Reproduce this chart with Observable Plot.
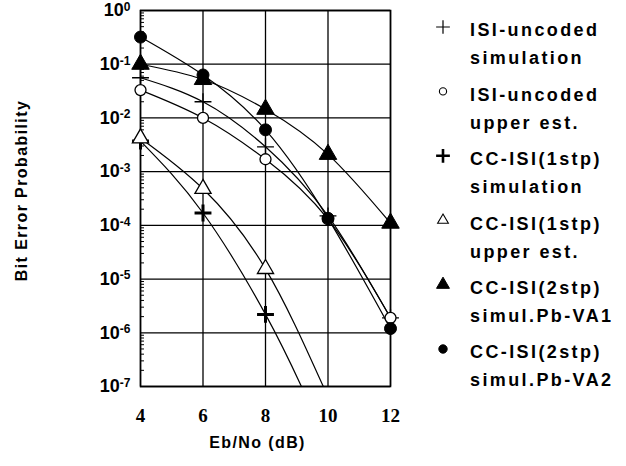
<!DOCTYPE html>
<html><head><meta charset="utf-8">
<script src="https://cdn.jsdelivr.net/npm/d3@7"></script>
<script src="https://cdn.jsdelivr.net/npm/@observablehq/plot@0.6"></script>
<style>
body{margin:0;background:#fff;}
#wrap{position:relative;width:626px;height:466px;}
#wrap svg.legend{position:absolute;left:0;top:0;pointer-events:none;}
</style></head><body><div id="wrap"></div>
<script>
// ---- data ----
const ebno = [4, 6, 8, 10, 12];
const ebnoShort = [4, 6, 8];
const isiSim   = [0.056, 0.020, 0.0029, 1.5e-4, 1.9e-6];
const isiUpper = [0.033, 0.010, 0.0017, 1.3e-4, 1.9e-6];
const cc1Sim   = [0.0037, 1.7e-4, 2.2e-6];
const cc1Upper = [0.0042, 4.8e-4, 1.55e-5];
const cc2VA1   = [0.10, 0.052, 0.0145, 0.0021, 1.1e-4];
const cc2VA2   = [0.32, 0.063, 0.006, 1.35e-4, 1.2e-6];
// where the fitted curves of the 1-step series leave the frame
const cc1SimTailX = [9.15],  cc1SimTailY = [1e-7];
const cc1UpperTailX = [9.85], cc1UpperTailY = [1e-7];

const xTicks = [4, 6, 8, 10, 12];
const yExponents = [0, -1, -2, -3, -4, -5, -6, -7];
const legendLine1 = ["ISI-uncoded", "ISI-uncoded", "CC-ISI(1stp)", "CC-ISI(1stp)", "CC-ISI(2stp)", "CC-ISI(2stp)"];
const legendLine2 = ["simulation", "upper est.", "simulation", "upper est.", "simul.Pb-VA1", "simul.Pb-VA2"];
const xLabel = "Eb/No (dB)";
const yLabel = "Bit Error Probability";

// ---- styles (not data) ----
const styles = [
  {symbol: "plus", fill: "none", stroke: "black", strokeWidth: 1.3, r: 5.5, lr: 4.5, lsw: 1.2},
  {symbol: "circle", fill: "white", stroke: "black", strokeWidth: 1.3, r: 5.5, lr: 3.6, lsw: 1.1},
  {symbol: "plus", fill: "none", stroke: "black", strokeWidth: 3, r: 5.5, lr: 4.5, lsw: 2.6},
  {symbol: "triangle", fill: "white", stroke: "black", strokeWidth: 1.3, r: 6, lr: 4, lsw: 1.1},
  {symbol: "triangle", fill: "black", stroke: "black", strokeWidth: 1, r: 6.5, lr: 4.8, lsw: 1},
  {symbol: "circle", fill: "black", stroke: "black", strokeWidth: 1, r: 6, lr: 4.2, lsw: 1}
];

const seriesX = [ebno, ebno, ebnoShort, ebnoShort, ebno, ebno];
const seriesY = [isiSim, isiUpper, cc1Sim, cc1Upper, cc2VA1, cc2VA2];
const tailsX = [[], [], cc1SimTailX, cc1UpperTailX, [], []];
const tailsY = [[], [], cc1SimTailY, cc1UpperTailY, [], []];

const pts = seriesY.map((ys, i) => ys.map((y, j) => ({x: seriesX[i][j], y})));
const linePts = pts.map((p, i) => p.concat(tailsX[i].map((x, j) => ({x, y: tailsY[i][j]}))));

const yTicks = yExponents.map(e => Math.pow(10, e));
const minorTicks = [];
for (const e of yExponents.slice(1)) for (let m = 2; m <= 9; m++) minorTicks.push(m * Math.pow(10, e));

const font = "Liberation Sans, Arial, sans-serif";
const marks = [
  Plot.gridY(yTicks, {stroke: "black", strokeOpacity: 1, strokeWidth: 1.3}),
  Plot.gridX(xTicks, {stroke: "black", strokeOpacity: 1, strokeWidth: 1.3}),
  Plot.axisY(minorTicks, {tickSize: -4, tickFormat: () => "", strokeWidth: 1, label: null}),
  Plot.frame({stroke: "black", strokeWidth: 1.6}),
  Plot.axisY(yTicks, {tickSize: 0, tickPadding: 10, tickFormat: d => "10^" + Math.round(Math.log10(d)),
    fontSize: 18, fontWeight: "bold", fontFamily: font, label: null}),
  Plot.axisX(xTicks, {tickSize: 0, tickPadding: 22, fontSize: 19, fontWeight: "bold",
    fontFamily: "Liberation Serif, Times New Roman, serif", label: null}),
  ...linePts.map(p => Plot.line(p, {x: "x", y: "y", curve: "natural", stroke: "black", strokeWidth: 1.2, clip: true})),
  ...pts.map((p, i) => Plot.dot(p, {x: "x", y: "y", symbol: styles[i].symbol, r: styles[i].r,
    fill: styles[i].fill, stroke: styles[i].stroke, strokeWidth: styles[i].strokeWidth})),
  Plot.text([yLabel], {frameAnchor: "left", textAnchor: "middle", dx: -119, dy: -8, rotate: -90, fontSize: 16,
    fontWeight: "bold", fontFamily: font}),
  Plot.text([xLabel], {frameAnchor: "bottom", textAnchor: "middle", dy: 61, dx: -8, fontSize: 16,
    fontWeight: "bold", fontFamily: font})
];

const chart = Plot.plot({
  width: 626, height: 466,
  marginLeft: 140, marginRight: 236, marginTop: 10, marginBottom: 80,
  x: {domain: [4, 12]},
  y: {type: "log", domain: [1e-7, 1]},
  style: {background: "white", color: "black"},
  marks
});
// y tick labels: base with superscript exponent
d3.select(chart).selectAll('g[aria-label="y-axis tick label"] text').each(function() {
  const t = this.textContent;
  const m = t.match(/^10\^(-?\d+)$/);
  if (!m) return;
  const sel = d3.select(this);
  sel.text(null);
  sel.append("tspan").text("10");
  sel.append("tspan").attr("dy", "-0.45em").attr("font-size", 12).text(m[1]);
});
// letter spacing for the axis titles
d3.select(chart).selectAll('g[aria-label="text"] text').attr("letter-spacing", "1.4px");
document.getElementById("wrap").appendChild(chart);

// legend
const leg = d3.select("#wrap").append("svg").attr("class", "legend")
  .attr("width", 626).attr("height", 466)
  .attr("font-family", font).attr("font-weight", "bold")
  .attr("font-size", 18).attr("letter-spacing", "2.4px");
const rowY = d3.range(legendLine1.length).map(i => 30 + i * 64.4);
legendLine1.forEach((t, i) => {
  const s = styles[i];
  const type = s.symbol === "plus" ? d3.symbolPlus : s.symbol === "circle" ? d3.symbolCircle : d3.symbolTriangle;
  leg.append("path").attr("transform", `translate(443,${rowY[i] - 3})`)
    .attr("d", d3.symbol(type, Math.PI * s.lr * s.lr)())
    .attr("fill", s.fill).attr("stroke", s.stroke).attr("stroke-width", s.lsw);
  leg.append("text").attr("x", 470).attr("y", rowY[i]).attr("dy", "0.35em").text(t);
  leg.append("text").attr("x", 470).attr("y", rowY[i] + 28).attr("dy", "0.35em").text(legendLine2[i]);
});
</script></body></html>
